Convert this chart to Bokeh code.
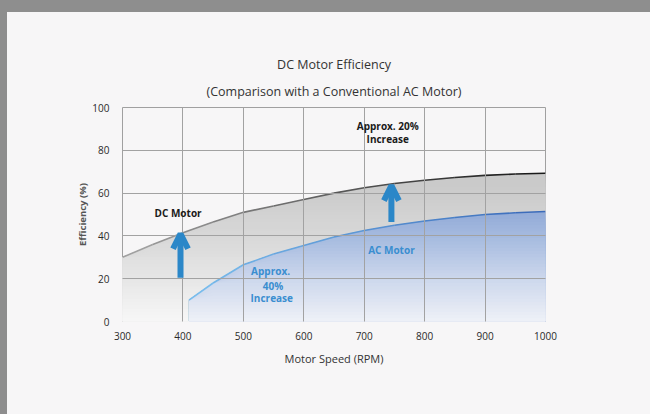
import numpy as np
from bokeh.plotting import figure
from bokeh.layouts import column, row
from bokeh.models import Range1d, FixedTicker, Label, Arrow, OpenHead, Title, Spacer
from bokeh.embed import file_html
from bokeh.resources import INLINE

# ---------------- data ----------------
title_lines = ["DC Motor Efficiency", "(Comparison with a Conventional AC Motor)"]
x_label = "Motor Speed (RPM)"
y_label = "Efficiency (%)"
x_ticks = [300, 400, 500, 600, 700, 800, 900, 1000]
y_ticks = [0, 20, 40, 60, 80, 100]

dc_speed = [300, 350, 400, 450, 500, 550, 600, 650, 700, 750, 800, 850, 900, 950, 1000]
dc_eff = [30, 36, 41.5, 46.5, 51, 54, 57, 60, 62.5, 64.5, 66, 67.3, 68.3, 68.9, 69.3]

ac_speed = [410, 450, 500, 550, 600, 650, 700, 750, 800, 850, 900, 950, 1000]
ac_eff = [10, 18, 26.5, 31.5, 35.5, 39.5, 42.5, 45, 47, 48.6, 50, 50.8, 51.4]

arrow_speed = [396, 745]
arrow_from = [20.5, 46.5]
arrow_to = [41, 63.5]

note_text = ["DC Motor", "Approx. 20%", "Increase", "AC Motor", "Approx.", "40%", "Increase"]
note_x = [392, 739, 739, 745, 545, 549, 547]
note_y = [50.5, 91.4, 85.3, 33.3, 23.6, 16.4, 10.8]
note_kind = ["dark", "dark", "dark", "blue", "blue", "blue", "blue"]

# ---------------- styling ----------------
PANEL = "#f7f6f7"
OUTER = "#8e8e8e"
FONT = "Open Sans"
BLUE_TXT = "#3a8ed0"
ARROW_C = "#2b87c8"


def lerp_color(stops, v):
    ys = [s[0] for s in stops]
    out = []
    for k in range(3):
        out.append(int(round(np.interp(v, ys, [s[1][k] for s in stops]))))
    return "#%02x%02x%02x" % tuple(out)


grey_stops = [(0, (247, 247, 247)), (20, (230, 230, 230)), (40, (216, 216, 216)),
              (60, (204, 204, 204)), (72, (199, 199, 199))]
blue_stops = [(0, (238, 241, 247)), (20, (204, 215, 236)), (40, (165, 186, 223)),
              (52, (145, 170, 215))]

p = figure(width=643, height=402, output_backend="svg", toolbar_location=None,
           x_range=Range1d(300, 1000), y_range=Range1d(0, 100),
           min_border_left=115, min_border_right=105, min_border_top=95, min_border_bottom=93)
p.background_fill_color = PANEL
p.border_fill_color = PANEL
p.outline_line_color = "#a0a0a0"

dcx = np.array(dc_speed, float)
dcy = np.array(dc_eff, float)
acx = np.array(ac_speed, float)
acy = np.array(ac_eff, float)

# grey gradient under DC curve (drawn top-down so lower bands overwrite)
for b in np.arange(72, 0, -1.5):
    p.varea(x=dcx, y1=np.zeros_like(dcy), y2=np.minimum(dcy, b),
            fill_color=lerp_color(grey_stops, b - 0.75), fill_alpha=1.0)

# blue gradient under AC curve
for b in np.arange(54, 0, -1.5):
    p.varea(x=acx, y1=np.zeros_like(acy), y2=np.minimum(acy, b),
            fill_color=lerp_color(blue_stops, b - 0.75), fill_alpha=1.0)

# curves as segment chains with a colour drift
n_dc = len(dcx) - 1
dc_cols = [lerp_color([(0, (160, 160, 160)), (1, (25, 25, 25))], i / max(n_dc - 1, 1)) for i in range(n_dc)]
p.segment(x0=dcx[:-1], y0=dcy[:-1], x1=dcx[1:], y1=dcy[1:], line_color=dc_cols, line_width=1.6)
n_ac = len(acx) - 1
ac_cols = [lerp_color([(0, (120, 188, 236)), (1, (60, 108, 186))], i / max(n_ac - 1, 1)) for i in range(n_ac)]
p.segment(x0=acx[:-1], y0=acy[:-1], x1=acx[1:], y1=acy[1:], line_color=ac_cols, line_width=1.6)

# grid and axes
p.xgrid.ticker = FixedTicker(ticks=x_ticks)
p.ygrid.ticker = FixedTicker(ticks=y_ticks)
p.grid.grid_line_color = "#a2a2a2"
p.grid.grid_line_width = 1
p.grid.level = "guide"
p.xaxis.ticker = FixedTicker(ticks=x_ticks)
p.yaxis.ticker = FixedTicker(ticks=y_ticks)
for ax in (p.xaxis, p.yaxis):
    ax.axis_line_color = None
    ax.major_tick_line_color = None
    ax.minor_tick_line_color = None
    ax.major_label_text_font = FONT
    ax.major_label_text_font_size = "10px"
    ax.major_label_text_color = "#2a2a2a"
    ax.axis_label_text_font = FONT
    ax.axis_label_text_font_style = "normal"
    ax.axis_label_text_color = "#333333"
p.xaxis.axis_label = x_label
p.yaxis.axis_label = y_label
p.xaxis.major_label_standoff = 4
p.yaxis.major_label_standoff = 7
p.xaxis.axis_label_standoff = 8
p.yaxis.axis_label_standoff = 0
p.xaxis.axis_label_text_font_size = "11px"
p.yaxis.axis_label_text_font_size = "9.5px"
p.yaxis.axis_label_text_font_style = "bold"
p.yaxis.axis_label_text_color = "#555555"

# arrows
for xs, y0, y1 in zip(arrow_speed, arrow_from, arrow_to):
    p.add_layout(Arrow(x_start=xs, y_start=y0, x_end=xs, y_end=y1,
                       line_color=ARROW_C, line_width=6,
                       end=OpenHead(size=15, line_width=6, line_color=ARROW_C)))

# notes
for t, x, y, k in zip(note_text, note_x, note_y, note_kind):
    p.add_layout(Label(x=x, y=y, text=t, text_align="center", text_baseline="middle",
                       text_font=FONT, text_font_style="bold", text_font_size="10px",
                       text_color="#1a1a1a" if k == "dark" else BLUE_TXT))

# title: subtitle first (closest to the frame), then main line above it
p.add_layout(Title(text=title_lines[1], align="center", text_font=FONT, text_font_size="12.5px",
                   text_font_style="normal", text_color="#333333", standoff=16), "above")
p.add_layout(Title(text=title_lines[0], align="center", text_font=FONT, text_font_size="12.5px",
                   text_font_style="normal", text_color="#333333", standoff=0), "above")

page = column(
    Spacer(width=650, height=12, styles={"background-color": OUTER}),
    row(Spacer(width=7, height=402, styles={"background-color": OUTER}), p, spacing=0,
        styles={"background-color": PANEL}),
    spacing=0, styles={"background-color": PANEL},
)

open("out.html", "w").write(file_html(page, INLINE))
